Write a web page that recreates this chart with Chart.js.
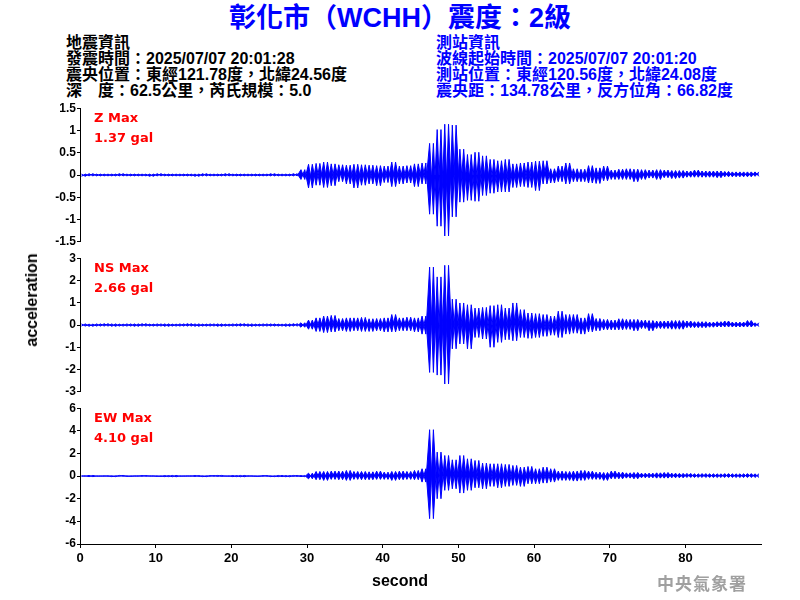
<!DOCTYPE html>
<html>
<head>
<meta charset="utf-8">
<script src="https://cdn.jsdelivr.net/npm/chart.js@4.4.0/dist/chart.umd.min.js"></script>
<style>
body { margin: 0; width: 800px; height: 600px; position: relative; background: #fff; overflow: hidden;
       font-family: "Liberation Sans", Arial, "Noto Sans CJK TC", sans-serif; }
canvas { position: absolute; left: 0; }
.txt { position: absolute; white-space: nowrap; }
#title { left: 0; width: 800px; top: 2px; text-align: center; color: #0000ff; font-size: 27px; font-weight: bold; line-height: 32px; }
.info { top: 35px; font-size: 16px; line-height: 16px; font-weight: bold; }
.maxlbl { left: 94px; color: #ff0000; font-family: "DejaVu Sans", sans-serif; font-weight: bold; font-size: 13px; line-height: 20px; }
.axtitle { font-size: 16px; font-weight: bold; color: #000; }
#wm { left: 657px; top: 570px; color: #a0a0a0; font-family: "Noto Sans CJK TC", sans-serif; font-weight: bold; font-size: 17px; letter-spacing: 1px; }
</style>
</head>
<body>
<div id="title" class="txt">彰化市（WCHH）震度：2級</div>
<div class="txt info" style="left:66px;color:#000">地震資訊<br>發震時間：2025/07/07 20:01:28<br>震央位置：東經121.78度，北緯24.56度<br>深　度：62.5公里，芮氏規模：5.0</div>
<div class="txt info" style="left:436px;color:#0000ff">測站資訊<br>波線起始時間：2025/07/07 20:01:20<br>測站位置：東經120.56度，北緯24.08度<br>震央距：134.78公里，反方位角：66.82度</div>

<canvas id="cz" width="800" height="150" style="top:100px"></canvas>
<canvas id="cns" width="800" height="150" style="top:250px"></canvas>
<canvas id="cew" width="800" height="200" style="top:400px"></canvas>

<div class="txt maxlbl" style="top:108px">Z Max<br>1.37 gal</div>
<div class="txt maxlbl" style="top:258px">NS Max<br>2.66 gal</div>
<div class="txt maxlbl" style="top:408px">EW Max<br>4.10 gal</div>

<div class="txt axtitle" style="left:32px;top:300px;transform:translate(-50%,-50%) rotate(-90deg)">acceleration</div>
<div class="txt axtitle" style="left:400px;top:581px;transform:translate(-50%,-50%)">second</div>
<div id="wm" class="txt">中央氣象署</div>

<script>
// one-second bins, peak (max) and trough (min), gal
const seconds = Array.from({length: 90}, (_, i) => i);

const zMax = [0.02,0.03,0.02,0.02,0.02,0.03,0.02,0.02,0.02,0.02,0.03,0.02,0.02,0.02,0.02,0.02,0.03,0.02,0.02,0.03,
  0.02,0.02,0.02,0.02,0.02,0.03,0.02,0.02,0.03,0.12,
  0.24,0.26,0.29,0.25,0.23,0.22,0.24,0.23,0.22,0.21,0.2,0.29,0.2,0.21,0.25,0.27,0.71,1.02,1.14,1.12,
  0.58,0.46,0.51,0.43,0.35,0.32,0.35,0.25,0.27,0.29,0.31,0.32,0.14,0.2,0.27,0.14,0.13,0.21,0.16,0.2,
  0.11,0.13,0.14,0.13,0.12,0.11,0.12,0.11,0.1,0.1,0.09,0.11,0.09,0.09,0.09,0.08,0.07,0.07,0.07,0.07];
const zMin = [-0.03,-0.02,-0.02,-0.02,-0.02,-0.02,-0.02,-0.02,-0.02,-0.03,-0.02,-0.02,-0.02,-0.02,-0.02,-0.03,-0.02,-0.02,-0.02,-0.02,
  -0.02,-0.02,-0.02,-0.02,-0.02,-0.02,-0.02,-0.02,-0.02,-0.1,
  -0.29,-0.23,-0.28,-0.24,-0.15,-0.2,-0.29,-0.23,-0.2,-0.24,-0.17,-0.26,-0.2,-0.18,-0.26,-0.2,-0.88,-1.15,-1.37,-0.94,
  -0.61,-0.57,-0.59,-0.46,-0.41,-0.38,-0.38,-0.28,-0.26,-0.28,-0.35,-0.2,-0.18,-0.15,-0.2,-0.15,-0.15,-0.18,-0.19,-0.13,
  -0.1,-0.1,-0.1,-0.15,-0.1,-0.07,-0.1,-0.06,-0.08,-0.07,-0.05,-0.05,-0.05,-0.05,-0.06,-0.04,-0.04,-0.04,-0.04,-0.03];

const nsMax = [0.05,0.04,0.05,0.06,0.05,0.04,0.05,0.05,0.06,0.04,0.05,0.05,0.04,0.05,0.06,0.05,0.04,0.05,0.05,0.04,
  0.05,0.06,0.05,0.04,0.05,0.05,0.04,0.05,0.06,0.1,
  0.22,0.32,0.4,0.43,0.29,0.32,0.32,0.34,0.28,0.29,0.32,0.47,0.32,0.35,0.32,0.4,2.6,2.16,2.68,1.16,
  0.99,0.91,0.76,0.79,0.87,0.91,0.76,0.99,0.69,0.54,0.51,0.47,0.4,0.62,0.47,0.47,0.32,0.51,0.29,0.25,
  0.22,0.28,0.25,0.25,0.22,0.2,0.18,0.18,0.2,0.2,0.18,0.15,0.15,0.13,0.15,0.18,0.13,0.13,0.2,0.1];
const nsMin = [-0.05,-0.06,-0.05,-0.05,-0.06,-0.05,-0.05,-0.06,-0.05,-0.05,-0.05,-0.06,-0.05,-0.05,-0.05,-0.06,-0.05,-0.05,-0.06,-0.05,
  -0.05,-0.05,-0.06,-0.05,-0.05,-0.05,-0.05,-0.06,-0.05,-0.1,
  -0.19,-0.29,-0.34,-0.31,-0.26,-0.29,-0.26,-0.29,-0.29,-0.26,-0.31,-0.31,-0.26,-0.26,-0.31,-0.41,-2.13,-2.25,-2.65,-1.07,
  -0.85,-1.07,-0.56,-0.63,-1.0,-0.78,-0.66,-0.71,-0.56,-0.6,-0.56,-0.51,-0.46,-0.56,-0.41,-0.37,-0.41,-0.31,-0.26,-0.22,
  -0.22,-0.22,-0.2,-0.26,-0.16,-0.26,-0.16,-0.16,-0.19,-0.19,-0.12,-0.12,-0.12,-0.1,-0.09,-0.09,-0.09,-0.09,-0.09,-0.07];

const ewMax = [0.03,0.06,0.02,0.03,0.03,0.06,0.02,0.03,0.05,0.03,0.02,0.05,0.06,0.02,0.03,0.05,0.03,0.05,0.06,0.02,
  0.05,0.06,0.03,0.02,0.05,0.03,0.06,0.05,0.06,0.05,
  0.26,0.41,0.41,0.44,0.44,0.5,0.41,0.41,0.38,0.44,0.35,0.41,0.44,0.41,0.5,0.65,4.1,2.12,1.82,1.44,
  1.82,1.53,1.38,1.15,1.09,1.09,1.03,0.94,0.79,0.85,0.65,0.79,0.65,0.44,0.41,0.44,0.5,0.44,0.35,0.32,
  0.44,0.35,0.29,0.32,0.26,0.26,0.29,0.32,0.26,0.24,0.24,0.2,0.22,0.2,0.2,0.22,0.2,0.2,0.22,0.2];
const ewMin = [-0.02,-0.05,-0.02,-0.02,-0.05,-0.02,-0.03,-0.02,-0.02,-0.02,-0.03,-0.05,-0.06,-0.02,-0.02,-0.03,-0.05,-0.02,-0.03,-0.02,
  -0.05,-0.06,-0.02,-0.03,-0.02,-0.05,-0.05,-0.06,-0.03,-0.05,
  -0.24,-0.32,-0.38,-0.29,-0.32,-0.38,-0.29,-0.32,-0.32,-0.29,-0.29,-0.38,-0.32,-0.29,-0.32,-0.53,-3.76,-2.0,-1.26,-1.12,
  -1.5,-1.26,-1.03,-1.12,-0.91,-1.03,-0.91,-0.82,-0.91,-0.68,-0.68,-0.62,-0.53,-0.38,-0.38,-0.44,-0.38,-0.29,-0.29,-0.38,
  -0.24,-0.24,-0.18,-0.24,-0.15,-0.15,-0.18,-0.18,-0.15,-0.15,-0.12,-0.12,-0.12,-0.12,-0.12,-0.12,-0.12,-0.12,-0.12,-0.12];

const xTicks = [0, 10, 20, 30, 40, 50, 60, 70, 80];

Chart.defaults.font.family = '"Liberation Sans", Arial, sans-serif';
Chart.defaults.color = '#000';

// swing through each bin: a then b, at two spots in the second
function swing(a, b) {
    var out = [];
    seconds.forEach(function(t, i) {
        out.push({x: t + 0.2, y: a[i]});
        out.push({x: t + 0.7, y: b[i]});
    });
    return out;
}

function wave(data) {
    return { data: data, borderColor: '#0000ff', backgroundColor: '#0000ff',
             borderWidth: 1, pointRadius: 0, tension: 0, fill: 'origin' };
}

function panel(id, maxs, mins, lim, step, bottom) {
    var ctx = document.getElementById(id).getContext('2d');
    var x = {
        type: 'linear',
        min: 0,
        max: 89.99,
        display: bottom,
        afterBuildTicks: function(s) { s.ticks = xTicks.map(function(v) { return {value: v}; }); },
        ticks: { font: { size: 13, weight: 'bold' }, color: '#000', padding: 3, maxRotation: 0 },
        grid: { drawOnChartArea: false, drawTicks: true, tickLength: 4, color: '#000' },
        border: { color: '#000', width: 1 }
    };
    if (bottom) x.afterFit = function(s) { s.height = 50; };
    return new Chart(ctx, {
        type: 'line',
        data: { datasets: [wave(swing(maxs, mins)), wave(swing(mins, maxs))] },
        options: {
            responsive: false,
            animation: false,
            layout: { padding: { top: 8, bottom: 6, left: 0, right: 39 } },
            plugins: { legend: { display: false }, tooltip: { enabled: false } },
            scales: {
                x: x,
                y: {
                    min: -lim,
                    max: lim,
                    afterFit: function(s) { s.width = 80; },
                    ticks: {
                        stepSize: step,
                        autoSkip: false,
                        font: { size: 12, weight: 'bold' },
                        color: '#000',
                        padding: 1,
                        callback: function(v) { return String(+v.toFixed(2)); }
                    },
                    grid: { drawOnChartArea: false, drawTicks: true, tickLength: 3, color: '#000' },
                    border: { color: '#000', width: 1 }
                }
            }
        }
    });
}

panel('cz', zMax, zMin, 1.5, 0.5, false);
panel('cns', nsMax, nsMin, 3, 1, false);
panel('cew', ewMax, ewMin, 6, 2, true);
</script>
</body>
</html>
